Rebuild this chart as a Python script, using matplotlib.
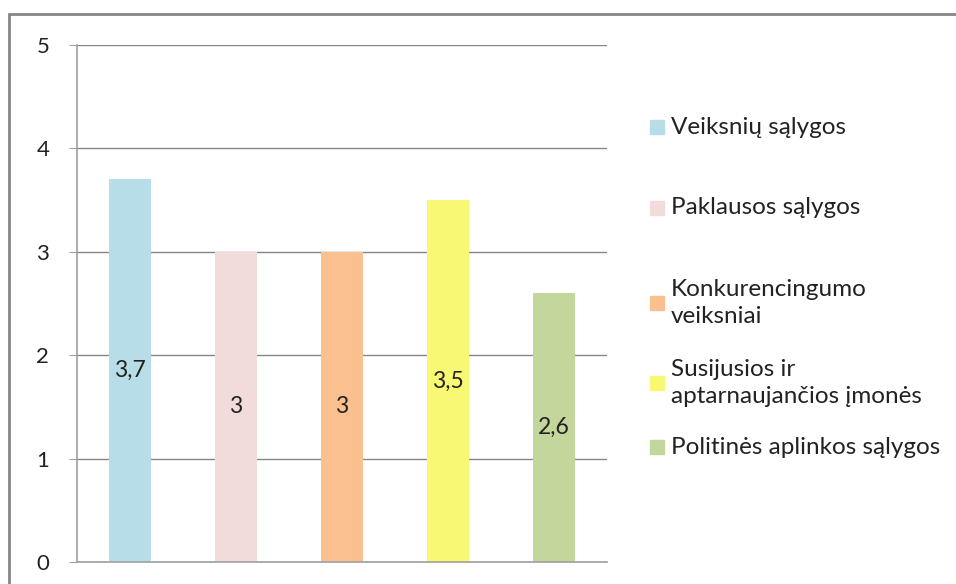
import matplotlib.pyplot as plt
from matplotlib.patches import Rectangle

plt.rcParams['font.family'] = ['Lato', 'DejaVu Sans']

categories = ['Veiksnių sąlygos', 'Paklausos sąlygos', 'Konkurencingumo\nveiksniai',
              'Susijusios ir\naptarnaujančios įmonės', 'Politinės aplinkos sąlygos']
values = [3.7, 3.0, 3.0, 3.5, 2.6]
labels = ['3,7', '3', '3', '3,5', '2,6']
colors = ['#B7DDE8', '#F2DCDB', '#FAC090', '#F8F874', '#C3D69B']
legend_y = [127, 208, 303, 383, 447]  # px from top

fig = plt.figure(figsize=(9.56, 5.84), dpi=100)
ax = fig.add_axes([77 / 956, 22 / 584, 530 / 956, 517 / 584])

x = range(len(values))
ax.bar(x, values, width=0.4, color=colors, zorder=2)
for i, v in enumerate(values):
    ax.text(i, v / 2, labels[i], ha='center', va='center', fontsize=16.5, color='#222222', zorder=3)

ax.set_xlim(-0.5, 4.5)
ax.set_ylim(0, 5)
ax.set_yticks([0, 1, 2, 3, 4, 5])
ax.set_xticks([])
ax.yaxis.grid(True, color='#868686', linewidth=1)
ax.set_axisbelow(True)
for s in ['top', 'right']:
    ax.spines[s].set_visible(False)
for s in ['left', 'bottom']:
    ax.spines[s].set_color('#A0A0A0')
    ax.spines[s].set_linewidth(1.2)
ax.tick_params(axis='y', length=6, color='#A0A0A0', labelsize=16, pad=14, labelcolor='#222222')

# legend drawn by hand
for i, name in enumerate(categories):
    yc = 1 - legend_y[i] / 584
    fig.patches.append(Rectangle((650 / 956, yc - 7 / 584), 14 / 956, 14 / 584,
                                 transform=fig.transFigure, color=colors[i]))
    fig.text(671 / 956, yc, name, ha='left', va='center', fontsize=17.5,
             color='#222222', linespacing=1.3)

# outer border
fig.patches.append(Rectangle((9 / 956, -0.1), 1.2, 1 - 14 / 584 + 0.1, transform=fig.transFigure,
                             fill=False, edgecolor='#868686', linewidth=2, clip_on=False))

fig.savefig('out.png', dpi=100)
